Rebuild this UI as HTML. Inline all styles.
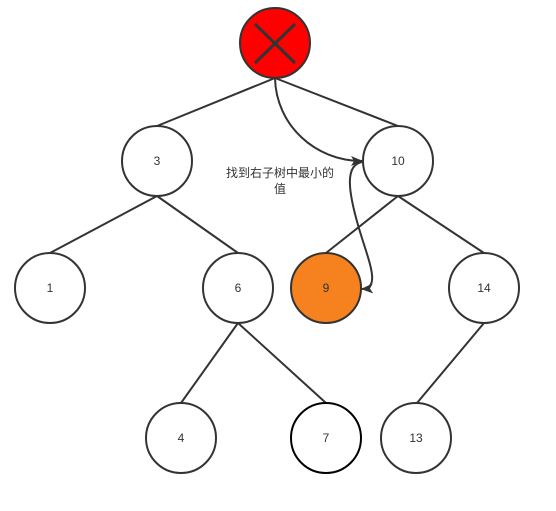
<!DOCTYPE html>
<html><head><meta charset="utf-8"><style>
html,body{margin:0;padding:0;background:#fff;}
svg{display:block;}
text{font-family:"Liberation Sans","Noto Sans CJK SC",sans-serif;font-size:12px;fill:#333;}
</style></head><body>
<svg width="556" height="511" viewBox="0 0 556 511" xmlns="http://www.w3.org/2000/svg">
<defs>
<marker id="ar" markerWidth="12" markerHeight="10" refX="11" refY="5" orient="auto" markerUnits="userSpaceOnUse">
<path d="M0,0 L12,5 L0,10 L3,5 Z" fill="#333"/>
</marker>
</defs>
<g stroke="#333" stroke-width="2" fill="none">
<line x1="275" y1="78" x2="157" y2="126"/>
<line x1="275" y1="78" x2="398" y2="126"/>
<line x1="157" y1="196" x2="50" y2="253"/>
<line x1="157" y1="196" x2="238" y2="253"/>
<line x1="398" y1="196" x2="326" y2="253"/>
<line x1="398" y1="196" x2="484" y2="253"/>
<line x1="238" y1="323" x2="181" y2="403"/>
<line x1="238" y1="323" x2="326" y2="403"/>
<line x1="484" y1="323" x2="417" y2="403"/>
<path d="M275,78 C276,125 315,161 362,161" marker-end="url(#ar)"/>
<path d="M362,162 C345,165 348,190 358,225 C368,260 382,288 362,289" marker-end="url(#ar)"/>
</g>
<g stroke="#333" stroke-width="2">
<ellipse cx="275" cy="43" rx="35" ry="35" fill="#ff0000"/>
<line x1="255" y1="24" x2="295" y2="63" stroke-width="3"/>
<line x1="295" y1="24" x2="255" y2="63" stroke-width="3"/>
<ellipse cx="157" cy="161" rx="35" ry="35" fill="#fff"/>
<ellipse cx="398" cy="161" rx="35" ry="35" fill="#fff"/>
<ellipse cx="50" cy="288" rx="35" ry="35" fill="#fff"/>
<ellipse cx="238" cy="288" rx="35" ry="35" fill="#fff"/>
<ellipse cx="326" cy="288" rx="35" ry="35" fill="#f5821f"/>
<ellipse cx="484" cy="288" rx="35" ry="35" fill="#fff"/>
<ellipse cx="181" cy="438" rx="35" ry="35" fill="#fff"/>
<ellipse cx="326" cy="438" rx="35" ry="35" fill="#fff" stroke="#000"/>
<ellipse cx="416" cy="438" rx="35" ry="35" fill="#fff"/>
</g>
<g text-anchor="middle">
<text x="157" y="165">3</text>
<text x="398" y="165">10</text>
<text x="50" y="292">1</text>
<text x="238" y="292">6</text>
<text x="326" y="292">9</text>
<text x="484" y="292">14</text>
<text x="181" y="442">4</text>
<text x="326" y="442">7</text>
<text x="416" y="442">13</text>
<text x="280" y="177">找到右子树中最小的</text>
<text x="280" y="193">值</text>
</g>
</svg>
</body></html>
